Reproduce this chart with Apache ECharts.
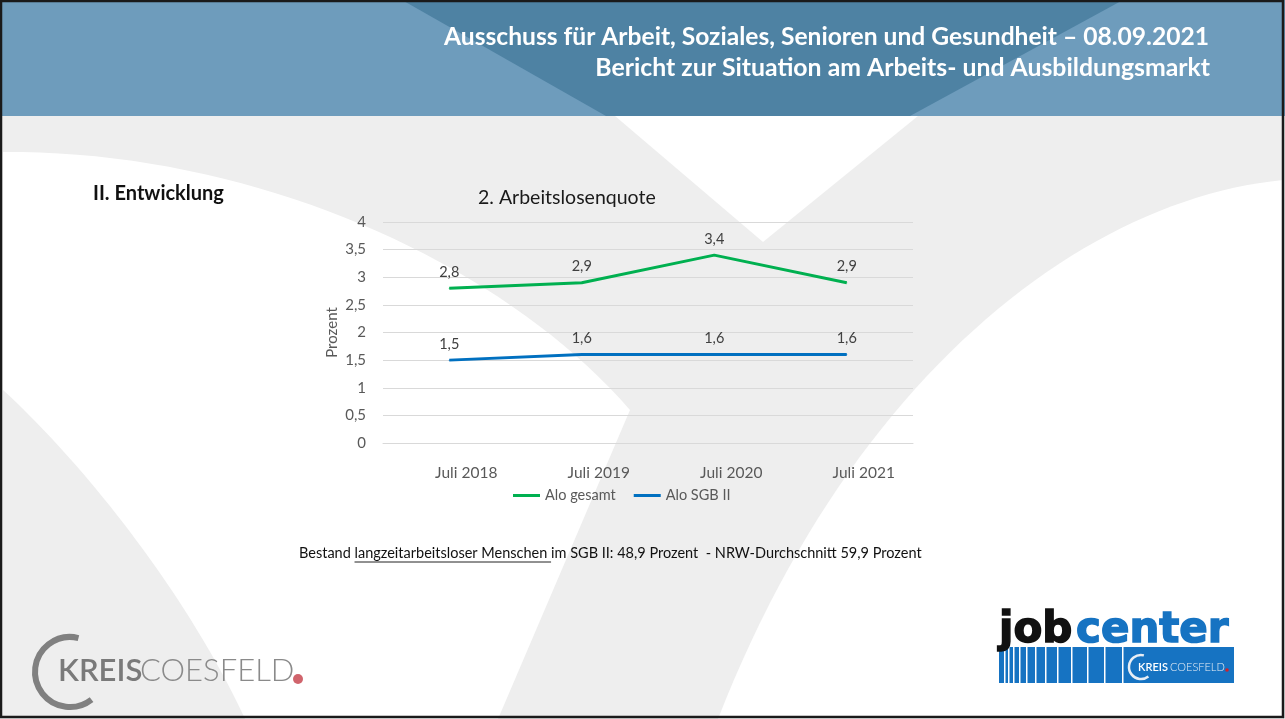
<!DOCTYPE html>
<html>
<head>
<meta charset="utf-8">
<script src="https://cdn.jsdelivr.net/npm/echarts@6/dist/echarts.min.js"></script>
<style>
  html, body { margin: 0; padding: 0; background: #fff; }
  #chart { width: 1285px; height: 719px; }
</style>
</head>
<body>
<div id="chart"></div>
<script>
// Daten
const categories = ['Juli 2018', 'Juli 2019', 'Juli 2020', 'Juli 2021']
const aloGesamt = [2.8, 2.9, 3.4, 2.9]
const aloSgb2 = [1.5, 1.6, 1.6, 1.6]
const seriesNames = ['Alo gesamt', 'Alo SGB II']
const headerLines = [
  'Ausschuss für Arbeit, Soziales, Senioren und Gesundheit – 08.09.2021',
  'Bericht zur Situation am Arbeits- und Ausbildungsmarkt'
]
const noteParts = ['Bestand ', 'langzeitarbeitsloser Menschen ', 'im SGB II: 48,9 Prozent  - NRW-Durchschnitt 59,9 Prozent']

const FONT = 'Lato, "Open Sans", sans-serif'
const comma = v => String(v).replace('.', ',')

// Hilfsfunktion fuer die Hintergrundkurven
function cubic (p0, p1, p2, p3, n) {
  const pts = []
  for (let i = 0; i <= n; i++) {
    const t = i / n
    const u = 1 - t
    pts.push([
      u * u * u * p0[0] + 3 * u * u * t * p1[0] + 3 * u * t * t * p2[0] + t * t * t * p3[0],
      u * u * u * p0[1] + 3 * u * u * t * p1[1] + 3 * u * t * t * p2[1] + t * t * t * p3[1]
    ])
  }
  return pts
}

function textWidth (txt, font) {
  const ctx = document.createElement('canvas').getContext('2d')
  ctx.font = font
  return ctx.measureText(txt).width
}

const whiteLeft = cubic([3, 152], [250, 150], [500, 260], [630, 410], 40)
  .concat([[498, 719], [245, 719]])
  .concat(cubic([245, 719], [190, 600], [90, 470], [3, 390], 40))
const whiteRight = cubic([1283, 180], [1080, 200], [850, 380], [718, 719], 50)
  .concat([[1283, 719]])

const noteFont = '14.5px ' + FONT
const noteX = 299
const ulStart = noteX + textWidth(noteParts[0], noteFont)
const ulEnd = noteX + textWidth(noteParts[0] + noteParts[1], noteFont)

// Streifen im Jobcenter-Logo
const stripeX = [1004, 1008, 1013, 1019, 1026, 1035, 1045, 1057, 1071, 1087, 1104, 1122]

const bg = [
  { type: 'rect', z: -10, shape: { x: 0, y: 0, width: 1285, height: 719 }, style: { fill: '#eeeeee' } },
  { type: 'polygon', z: -9, shape: { points: whiteLeft }, style: { fill: '#ffffff' } },
  { type: 'polygon', z: -9, shape: { points: whiteRight }, style: { fill: '#ffffff' } },
  { type: 'polygon', z: -9, shape: { points: [[615, 116], [763, 242], [918, 116]] }, style: { fill: '#ffffff' } },
  { type: 'rect', z: -8, shape: { x: 0, y: 0, width: 1285, height: 116 }, style: { fill: '#6e9cbc' } },
  { type: 'polygon', z: -8, shape: { points: [[402, 0], [1123, 0], [910, 116], [606, 116]] }, style: { fill: '#4e82a3' } }
]

const texts = [
  {
    type: 'text', z: 10, x: 1209, y: 37,
    style: { text: headerLines[0], fill: '#fff', font: 'bold 24.6px ' + FONT, textAlign: 'right', textVerticalAlign: 'middle' }
  },
  {
    type: 'text', z: 10, x: 1210, y: 68,
    style: { text: headerLines[1], fill: '#fff', font: 'bold 24.8px ' + FONT, textAlign: 'right', textVerticalAlign: 'middle' }
  },
  {
    type: 'text', z: 10, x: 93, y: 194,
    style: { text: 'II. Entwicklung', fill: '#111', font: 'bold 20px ' + FONT, textVerticalAlign: 'middle' }
  },
  {
    type: 'text', z: 10, x: noteX, y: 553,
    style: { text: noteParts.join(''), fill: '#111', font: noteFont, textVerticalAlign: 'middle' }
  },
  { type: 'line', z: 10, shape: { x1: ulStart, y1: 562, x2: ulEnd, y2: 562 }, style: { stroke: '#222', lineWidth: 1 } }
]

// Logo Kreis Coesfeld
const kreisLogo = [
  {
    type: 'arc', z: 10,
    shape: { cx: 70, cy: 672, r: 35, startAngle: 52 * Math.PI / 180, endAngle: 284 * Math.PI / 180 },
    style: { stroke: '#808080', lineWidth: 6, fill: null }
  },
  {
    type: 'text', z: 10, x: 58, y: 671,
    style: { text: 'KREIS', fill: '#7a7a7a', font: '600 31px ' + FONT, textVerticalAlign: 'middle' }
  },
  {
    type: 'text', z: 10, x: 140, y: 671,
    style: { text: 'COESFELD', fill: '#8a8a8a', font: '300 31px ' + FONT, textVerticalAlign: 'middle' }
  },
  { type: 'circle', z: 10, shape: { cx: 298, cy: 679, r: 5 }, style: { fill: '#d0646c' } }
]

// Logo Jobcenter
const jobFont = 'bold 42px "DejaVu Sans", sans-serif'
const jobLogo = [
  { type: 'rect', z: 10, shape: { x: 999, y: 647, width: 235, height: 36 }, style: { fill: '#1673c2' } }
].concat(stripeX.map(x => ({
  type: 'rect', z: 11, shape: { x: x, y: 647, width: 1.5, height: 36 }, style: { fill: '#ffffff' }
}))).concat([
  {
    type: 'text', z: 12, x: 999, y: 652,
    style: { text: 'job', fill: '#111', stroke: '#111', lineWidth: 1.5, font: jobFont, textVerticalAlign: 'bottom' }
  },
  {
    type: 'text', z: 12, x: 1076, y: 652,
    style: { text: 'center', fill: '#1673c2', stroke: '#1673c2', lineWidth: 1.5, font: jobFont, textVerticalAlign: 'bottom' }
  },
  {
    type: 'arc', z: 12,
    shape: { cx: 1141, cy: 667, r: 12, startAngle: 52 * Math.PI / 180, endAngle: 284 * Math.PI / 180 },
    style: { stroke: '#e8eef5', lineWidth: 2.5, fill: null }
  },
  {
    type: 'text', z: 12, x: 1138, y: 667,
    style: { text: 'KREIS', fill: '#fff', font: '600 11px ' + FONT, textVerticalAlign: 'middle' }
  },
  {
    type: 'text', z: 12, x: 1170, y: 667,
    style: { text: 'COESFELD', fill: '#e8eef5', font: '300 11px ' + FONT, textVerticalAlign: 'middle' }
  },
  { type: 'circle', z: 12, shape: { cx: 1227, cy: 670, r: 1.8 }, style: { fill: '#d0202a' } }
])

const frame = [
  { type: 'rect', z: 20, shape: { x: 1, y: 1, width: 1282, height: 716 }, style: { fill: null, stroke: '#1a1a1a', lineWidth: 2.5 } }
]

const myChart = echarts.init(document.getElementById('chart'))

const labelStyle = {
  show: true,
  position: 'top',
  distance: 8,
  formatter: p => comma(p.value),
  color: '#404040',
  fontSize: 14.5,
  fontFamily: FONT
}

const option = {
  animation: false,
  title: {
    text: '2. Arbeitslosenquote',
    left: 473,
    top: 183,
    textStyle: { fontFamily: FONT, fontSize: 19.5, fontWeight: 'normal', color: '#1a1a1a' }
  },
  legend: {
    left: 513,
    top: 488,
    padding: 0,
    icon: 'rect',
    itemWidth: 27,
    itemHeight: 3,
    itemGap: 18,
    textStyle: { fontFamily: FONT, fontSize: 14.5, color: '#595959' },
    data: seriesNames
  },
  grid: { left: 383, right: 372, top: 222, bottom: 276, containLabel: false },
  xAxis: {
    type: 'category',
    data: categories,
    boundaryGap: true,
    axisLine: { lineStyle: { color: '#d9d9d9' } },
    axisTick: { show: false },
    axisLabel: { color: '#595959', fontSize: 15.5, fontFamily: FONT, margin: 22, padding: [0, 0, 0, 34] }
  },
  yAxis: {
    type: 'value',
    min: 0,
    max: 4,
    interval: 0.5,
    name: 'Prozent',
    nameLocation: 'middle',
    nameGap: 43,
    nameTextStyle: { color: '#595959', fontSize: 15, fontFamily: FONT },
    axisLine: { show: false },
    axisTick: { show: false },
    axisLabel: { color: '#595959', fontSize: 15, fontFamily: FONT, margin: 17, formatter: comma },
    splitLine: { lineStyle: { color: '#d9d9d9' } }
  },
  series: [
    {
      name: seriesNames[0],
      type: 'line',
      data: aloGesamt,
      symbol: 'circle',
      symbolSize: 1,
      itemStyle: { color: '#00b050' },
      lineStyle: { width: 3, color: '#00b050' },
      label: labelStyle
    },
    {
      name: seriesNames[1],
      type: 'line',
      data: aloSgb2,
      symbol: 'circle',
      symbolSize: 1,
      itemStyle: { color: '#0070c0' },
      lineStyle: { width: 3, color: '#0070c0' },
      label: labelStyle
    }
  ],
  graphic: { elements: bg.concat(texts, kreisLogo, jobLogo, frame) }
}

myChart.setOption(option)
</script>
</body>
</html>
